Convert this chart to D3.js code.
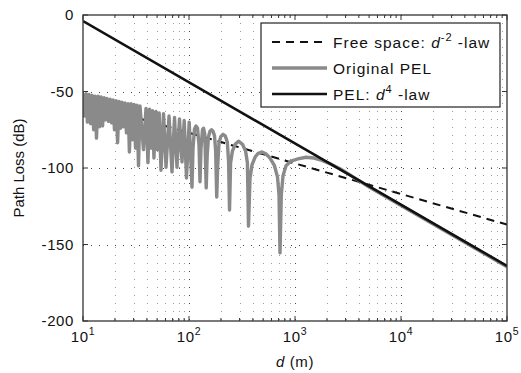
<!DOCTYPE html>
<html>
<head>
<meta charset="utf-8">
<script src="https://cdn.jsdelivr.net/npm/d3@7"></script>
<style>
  body { margin: 0; background: #fff; }
  svg text { font-family: "Liberation Sans", Arial, sans-serif; fill: #111; }
</style>
</head>
<body>
<svg id="chart" width="521" height="373"></svg>
<script>
// axis setup
const xTicks = [10, 100, 1000, 10000, 100000];
const xTickExp = ['1', '2', '3', '4', '5'];
const yTicks = [-200, -150, -100, -50, 0];

// free space d^-2 law (dashed)
const freeSpaceD = [10, 100000];
const freeSpaceDb = [-57, -137];

// PEL d^-4 law (black)
const pel4D = [10, 100000];
const pel4Db = [-4, -164];

// original PEL (gray)
const pelD = [
    10, 10.3, 10.7, 11.0, 11.4, 11.8, 12.2, 12.6, 13.0, 13.4, 13.9, 14.3, 14.8, 15.3, 15.8, 16.3,
    16.8, 17.4, 18.0, 18.6, 19.2, 19.8, 20.5, 21.2, 21.9, 22.6, 23.3, 24.1, 24.9, 25.7, 26.6, 27.4,
    28.4, 29.3, 30.3, 31.3, 32.3, 33.4, 34.5,
    37.2, 39.3, 41.0, 42.4, 43.8, 45.2, 46.7, 48.6, 50.4, 52.3, 54.4, 57.5, 60.7, 64.8, 69.1, 73.0,
    77.0, 81.3, 85.9, 90.1, 94.7, 100.4, 106.7,
    109.1, 112.7, 116.4, 120.3, 124.3, 127.0, 129.8, 134.1, 137.1, 141.0, 145.3, 148.5, 152.8, 157.8,
    163.1, 168.5, 174.1, 178.6, 182.6, 186.6, 191.9, 199.5, 209.3, 219.6, 229.8, 236.4, 241.1, 246.9,
    256.7, 272.8, 293.1, 319.7, 342.0, 355.6, 364.2, 376.3, 392.9, 419.5, 447.7, 483.1, 527.0, 581.0,
    640.6, 683.9, 706.7, 722.1, 742.9, 770.8, 822.7, 917.0, 1067, 1270, 1511, 1798, 2186, 2658, 3303,
    5000, 10000, 100000
];
const pelDb = [
    -51, -66, -51.5, -70, -52, -71, -52.5, -75, -53, -80.5, -53, -73, -53.5, -72.5, -54, -68.5,
    -54.5, -69.5, -55, -70.5, -55.5, -75, -56, -83.5, -56.5, -74, -57, -73, -57.5, -77, -58, -89.5,
    -58, -81.5, -58.5, -87, -59, -98.5, -59.5,
    -88, -61, -96.5, -61.5, -87, -62.5, -93.5, -63, -88, -64, -101.5, -64.5, -99.5, -66, -102.5, -67,
    -99.5, -68, -96, -69, -106.5, -70, -112.5,
    -87, -74.5, -72.5, -74, -85, -109, -87, -75, -74, -78, -113, -91.5, -79.5, -76,
    -75, -76, -79, -89.5, -119, -98, -83.5, -79.5, -78, -79, -83, -96, -127.5, -96.5,
    -89, -84.5, -82.5, -84.5, -89, -96.5, -138, -106.5, -98, -93, -90.5, -89.5, -90.5, -93.5,
    -98.5, -106, -117.5, -155.5, -117.5, -105, -98.5, -95.5, -94, -93, -93.5, -95, -97.5, -100.5, -104.5,
    -112.5, -124.5, -164.5
];

const margin = { top: 15, right: 14, bottom: 52, left: 83 };
const totalWidth = 521;
const totalHeight = 373;
const chartWidth = totalWidth - margin.left - margin.right;
const chartHeight = totalHeight - margin.top - margin.bottom;

const svg = d3.select('#chart');

const x = d3.scaleLog().domain([xTicks[0], xTicks[xTicks.length - 1]]).range([0, chartWidth]);
const y = d3.scaleLinear().domain([yTicks[0], yTicks[yTicks.length - 1]]).range([chartHeight, 0]);

const isMajor = d => xTicks.some(t => Math.abs(t - d) / t < 1e-9);
const minorTicks = x.ticks().filter(d => !isMajor(d));

svg.append('defs').append('clipPath').attr('id', 'clip')
    .append('rect').attr('width', chartWidth).attr('height', chartHeight);

const g = svg.append('g').attr('transform', 'translate(' + margin.left + ',' + margin.top + ')');

// grid
const gGrid = g.append('g');
gGrid.selectAll('.vminor').data(minorTicks).enter().append('line')
    .attr('x1', d => Math.round(x(d)) + 0.5).attr('x2', d => Math.round(x(d)) + 0.5)
    .attr('y1', 0).attr('y2', chartHeight)
    .attr('stroke', '#9a9a9a').attr('stroke-width', 1).attr('stroke-dasharray', '1,7');
gGrid.selectAll('.vmajor').data(xTicks.slice(1, -1)).enter().append('line')
    .attr('x1', d => Math.round(x(d)) + 0.5).attr('x2', d => Math.round(x(d)) + 0.5)
    .attr('y1', 0).attr('y2', chartHeight)
    .attr('stroke', '#444').attr('stroke-width', 1).attr('stroke-dasharray', '1,7');
gGrid.selectAll('.hmajor').data(yTicks.slice(1, -1)).enter().append('line')
    .attr('y1', d => Math.round(y(d)) + 0.5).attr('y2', d => Math.round(y(d)) + 0.5)
    .attr('x1', 0).attr('x2', chartWidth)
    .attr('stroke', '#444').attr('stroke-width', 1).attr('stroke-dasharray', '1,7');

// series: dashed first, gray over it, black on top
const line = d3.line().x(d => x(d[0])).y(d => y(d[1]));
const gLines = g.append('g').attr('clip-path', 'url(#clip)');

gLines.append('path')
    .datum(d3.zip(freeSpaceD, freeSpaceDb))
    .attr('d', line)
    .attr('fill', 'none')
    .attr('stroke', '#111')
    .attr('stroke-width', 2)
    .attr('stroke-dasharray', '8,6');

gLines.append('path')
    .datum(d3.zip(pelD, pelDb))
    .attr('d', line)
    .attr('fill', 'none')
    .attr('stroke', '#8a8a8a')
    .attr('stroke-width', 3.4)
    .attr('stroke-linejoin', 'round');

gLines.append('path')
    .datum(d3.zip(pel4D, pel4Db))
    .attr('d', line)
    .attr('fill', 'none')
    .attr('stroke', '#111')
    .attr('stroke-width', 2.6);

// axes box and ticks (inward, all four sides)
const axisColor = '#333';
g.append('rect')
    .attr('x', 0).attr('y', 0).attr('width', chartWidth).attr('height', chartHeight)
    .attr('fill', 'none').attr('stroke', axisColor).attr('stroke-width', 1.3);

const gTicks = g.append('g').attr('stroke', axisColor).attr('stroke-width', 1);
[0, chartHeight].forEach(yy => {
    const dir = yy === 0 ? 1 : -1;
    gTicks.selectAll(null).data(xTicks).enter().append('line')
        .attr('x1', d => x(d)).attr('x2', d => x(d))
        .attr('y1', yy).attr('y2', yy + dir * 5);
    gTicks.selectAll(null).data(minorTicks).enter().append('line')
        .attr('x1', d => x(d)).attr('x2', d => x(d))
        .attr('y1', yy).attr('y2', yy + dir * 3);
});
[0, chartWidth].forEach(xx => {
    const dir = xx === 0 ? 1 : -1;
    gTicks.selectAll(null).data(yTicks).enter().append('line')
        .attr('y1', d => y(d)).attr('y2', d => y(d))
        .attr('x1', xx).attr('x2', xx + dir * 5);
});

// tick labels
const tickFont = 15;
g.append('g').selectAll('text').data(yTicks).enter().append('text')
    .attr('x', -9).attr('y', d => y(d)).attr('dy', '0.36em')
    .attr('text-anchor', 'end').attr('font-size', tickFont).attr('letter-spacing', 0.6)
    .text(d => d);

const xLab = g.append('g').selectAll('text').data(xTicks).enter().append('text')
    .attr('x', d => x(d)).attr('y', chartHeight + 21)
    .attr('text-anchor', 'middle').attr('font-size', tickFont).attr('letter-spacing', 0.6);
xLab.append('tspan').text('10');
xLab.append('tspan').attr('dy', -7).attr('font-size', 10.5).text((d, i) => xTickExp[i]);

// axis titles
const xTitle = g.append('text')
    .attr('x', chartWidth / 2).attr('y', chartHeight + 46)
    .attr('text-anchor', 'middle').attr('font-size', 15).attr('letter-spacing', 0.6);
xTitle.append('tspan').attr('font-style', 'italic').text('d');
xTitle.append('tspan').text(' (m)');

g.append('text')
    .attr('transform', 'translate(' + (-59) + ',' + (chartHeight / 2) + ') rotate(-90)')
    .attr('text-anchor', 'middle').attr('font-size', 15)
    .text('Path Loss (dB)');

// legend
const legend = svg.append('g').attr('transform', 'translate(261,23)');
legend.append('rect')
    .attr('width', 239).attr('height', 84)
    .attr('fill', '#fff').attr('stroke', '#222').attr('stroke-width', 1.2);

const legendItems = [
    { stroke: '#111', width: 2, dash: '8,6', pre: 'Free space: ', exp: '-2' },
    { stroke: '#8a8a8a', width: 3.4, dash: null, pre: 'Original PEL', exp: null },
    { stroke: '#111', width: 2.6, dash: null, pre: 'PEL: ', exp: '4' }
];
const rowY = [19, 45, 71];
legendItems.forEach((item, i) => {
    const row = legend.append('g').attr('transform', 'translate(0,' + rowY[i] + ')');
    row.append('line')
        .attr('x1', 11).attr('x2', 66).attr('y1', 0).attr('y2', 0)
        .attr('stroke', item.stroke).attr('stroke-width', item.width)
        .attr('stroke-dasharray', item.dash);
    const t = row.append('text')
        .attr('x', 72).attr('y', 0).attr('dy', '0.36em')
        .attr('font-size', 15.5).attr('letter-spacing', 1);
    t.append('tspan').text(item.pre);
    if (item.exp) {
        t.append('tspan').attr('font-style', 'italic').text('d');
        t.append('tspan').attr('dy', -7).attr('font-size', 11).text(item.exp);
        t.append('tspan').attr('dy', 7).text(' -law');
    }
});
</script>
</body>
</html>
